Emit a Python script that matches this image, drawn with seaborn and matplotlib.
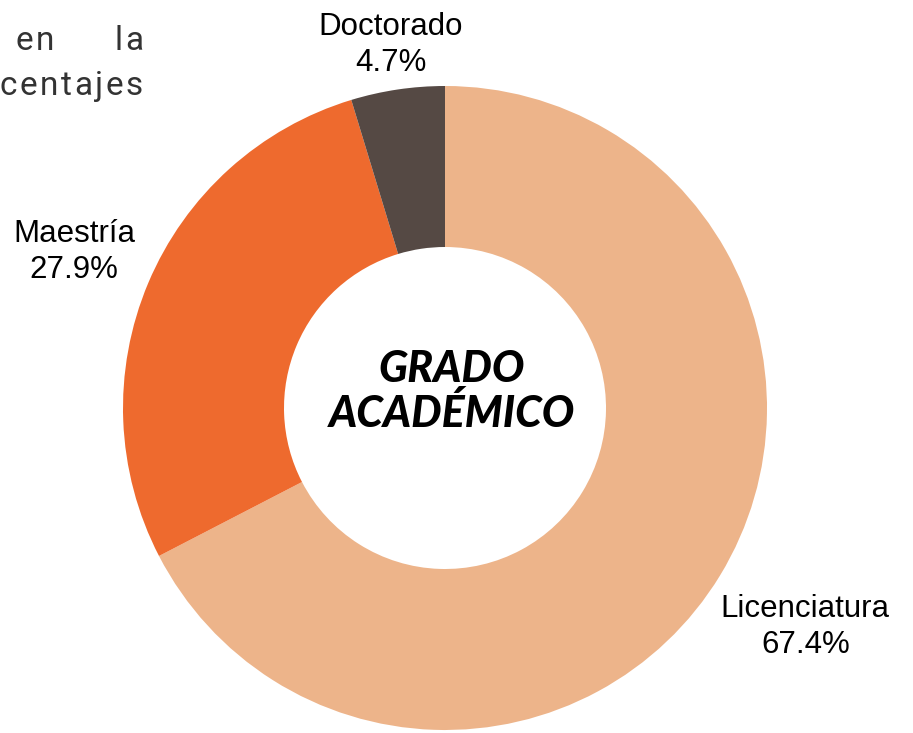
import seaborn as sns
import matplotlib.pyplot as plt
import numpy as np

sns.set_theme(style="white")
plt.rcParams['font.family'] = ['Liberation Sans', 'DejaVu Sans']

# data
grados = ["Licenciatura", "Maestría", "Doctorado"]
porcentajes = [67.4, 27.9, 4.7]
colores = ["#EDB48A", "#EE6A2E", "#554944"]
label_dist = [1.31, 1.25, 1.14]

W, H = 913, 733
cx, cy, r = 445, 408, 322

fig = plt.figure(figsize=(W / 100, H / 100), dpi=100)
ax = fig.add_axes([0, 0, 1, 1])

wedges, _ = ax.pie(porcentajes, colors=colores, startangle=90, counterclock=False,
                   wedgeprops=dict(width=0.5, linewidth=0))

# labels at the middle angle of each wedge
for w, name, pct, d in zip(wedges, grados, porcentajes, label_dist):
    ang = np.deg2rad((w.theta1 + w.theta2) / 2)
    ax.text(d * np.cos(ang), d * np.sin(ang), f"{name}\n{pct}%",
            ha="center", va="center", fontsize=22.5, color="black", linespacing=1.25)

ax.text(0.022, 0.05, "GRADO\nACADÉMICO", ha="center", va="center", fontsize=31,
        family="Lato", fontweight="black", style="italic", color="black", linespacing=1.12)

ax.set_xlim(-cx / r, (W - cx) / r)
ax.set_ylim(-(H - cy) / r, cy / r)
ax.axis("off")

# clipped paragraph text at top-left, letter-spaced by hand
gris = "#333333"
renderer = fig.canvas.get_renderer()


def spaced(word, right_px, base_px, gap=2.6):
    # advance of each glyph, measured between two x's
    probe = fig.text(0, 0, "", fontsize=24, family="Roboto")
    probe.set_text("xx")
    w2 = probe.get_window_extent(renderer).width
    adv = []
    for ch in word:
        probe.set_text("x" + ch + "x")
        adv.append(probe.get_window_extent(renderer).width - w2)
    probe.remove()
    total = sum(adv) + gap * (len(word) - 1)
    x = right_px - total
    for ch, a in zip(word, adv):
        fig.text(x / W, 1 - base_px / H, ch, ha="left", va="baseline", fontsize=24,
                 family="Roboto", color=gris)
        x += a + gap


spaced("en", 54, 50)
spaced("la", 143, 50)
spaced("centajes", 143, 95)

fig.savefig("out.png", dpi=100, facecolor="white")
